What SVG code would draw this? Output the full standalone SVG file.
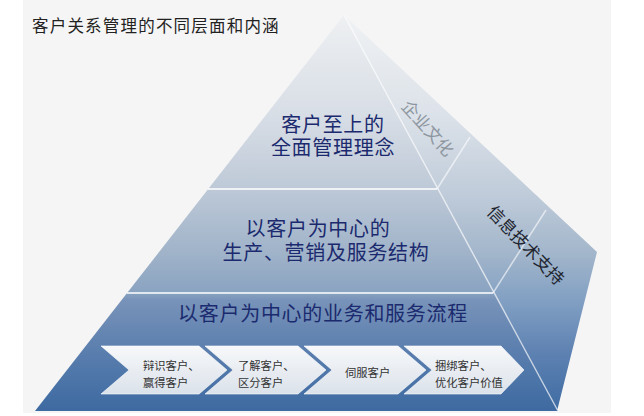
<svg xmlns="http://www.w3.org/2000/svg" width="644" height="416" viewBox="0 0 644 416">
  <defs>
    <linearGradient id="gFront" gradientUnits="userSpaceOnUse" x1="0" y1="15" x2="0" y2="411">
      <stop offset="0" stop-color="#eef0f2"/>
      <stop offset="0.25" stop-color="#d8dee6"/>
      <stop offset="0.43" stop-color="#bfcad8"/>
      <stop offset="0.6" stop-color="#a0b3c9"/>
      <stop offset="0.7" stop-color="#8aa3c1"/>
      <stop offset="0.72" stop-color="#7893b9"/>
      <stop offset="0.85" stop-color="#5a7eae"/>
      <stop offset="1" stop-color="#3d6aa1"/>
    </linearGradient>
    <linearGradient id="gSide" gradientUnits="userSpaceOnUse" x1="0" y1="15" x2="0" y2="411">
      <stop offset="0" stop-color="#f0f2f4"/>
      <stop offset="0.25" stop-color="#dce2e9"/>
      <stop offset="0.45" stop-color="#c0ccda"/>
      <stop offset="0.6" stop-color="#a3b6cb"/>
      <stop offset="0.72" stop-color="#82a0c3"/>
      <stop offset="0.85" stop-color="#5e82b2"/>
      <stop offset="1" stop-color="#3f6ca3"/>
    </linearGradient>
    <linearGradient id="gChev" x1="0" y1="0" x2="0" y2="1">
      <stop offset="0" stop-color="#f7f8fa"/>
      <stop offset="1" stop-color="#dbe2ea"/>
    </linearGradient>
  </defs>
  <style>
    .lbl { font-family: "Noto Sans CJK SC", "Noto Sans", sans-serif; font-size: 20px; fill: #1b2a6e; letter-spacing: 0.7px; text-anchor: middle; }
    .step { font-family: "Noto Sans CJK SC", "Noto Sans", sans-serif; font-size: 11.3px; fill: #333; }
    .chev { fill: url(#gChev); stroke: #ffffff; stroke-opacity: 0.6; stroke-width: 1; }
    .div { stroke: #ffffff; stroke-opacity: 0.75; stroke-width: 2; fill: none; }
    .edge { stroke: #ffffff; stroke-opacity: 0.6; stroke-width: 1.5; fill: none; }
    .side { font-family: "Noto Sans CJK SC", "Noto Sans", sans-serif; font-size: 17px; text-anchor: middle; }
  </style>

  <rect x="0" y="0" width="644" height="416" fill="#ffffff"/>
  <rect x="23" y="0" width="588" height="413" fill="#f5f5f5"/>

  <g id="title">
    <text x="32" y="32" font-family="'Noto Sans CJK SC', 'Noto Sans', sans-serif" font-size="16.5" letter-spacing="1.2" fill="#222">客户关系管理的不同层面和内涵</text>
  </g>

  <g id="pyramid">
    <polygon points="344,15 597,252 557,411 558,411" fill="url(#gSide)"/>
    <polygon points="344,15 558,411 35,411" fill="url(#gFront)"/>
  </g>

  <g id="lines">
    <line class="div" x1="208" y1="189" x2="437" y2="189"/>
    <line class="div" x1="127" y1="293" x2="493" y2="293"/>
    <line class="edge" x1="344" y1="15" x2="558" y2="411"/>
    <line class="edge" x1="437" y1="189" x2="470" y2="137"/>
    <line class="edge" x1="493" y1="293" x2="546" y2="210"/>
  </g>

  <g id="layer1">
    <text class="lbl" x="333" y="132">客户至上的</text>
    <text class="lbl" x="333" y="155">全面管理理念</text>
  </g>

  <g id="layer2">
    <text class="lbl" x="318" y="236">以客户为中心的</text>
    <text class="lbl" x="326" y="260">生产、营销及服务结构</text>
  </g>

  <g id="layer3">
    <text class="lbl" x="323" y="321">以客户为中心的业务和服务流程</text>
  </g>

  <g id="side-culture">
    <text class="side" fill="#8d96a0" transform="translate(428,128) rotate(48)" x="0" y="6.5">企业文化</text>
  </g>

  <g id="side-it">
    <text class="side" fill="#1e2530" transform="translate(526,245) rotate(46)" x="0" y="6.5">信息技术支持</text>
  </g>

  <g id="step1">
    <polygon class="chev" points="101,346 199,346 227,370 199,394 101,394 129,370"/>
    <text class="step" x="143" y="370">辩识客户、</text>
    <text class="step" x="143" y="386.5">赢得客户</text>
  </g>
  <g id="step2">
    <polygon class="chev" points="205,346 298,346 326,370 298,394 205,394 233,370"/>
    <text class="step" x="238" y="370">了解客户、</text>
    <text class="step" x="238" y="386.5">区分客户</text>
  </g>
  <g id="step3">
    <polygon class="chev" points="304,346 398,346 426,370 398,394 304,394 332,370"/>
    <text class="step" x="345" y="376.5">伺服客户</text>
  </g>
  <g id="step4">
    <polygon class="chev" points="404,346 501,346 524,370 501,394 404,394 432,370"/>
    <text class="step" x="435" y="370">捆绑客户、</text>
    <text class="step" x="435" y="386.5">优化客户价值</text>
  </g>
</svg>
